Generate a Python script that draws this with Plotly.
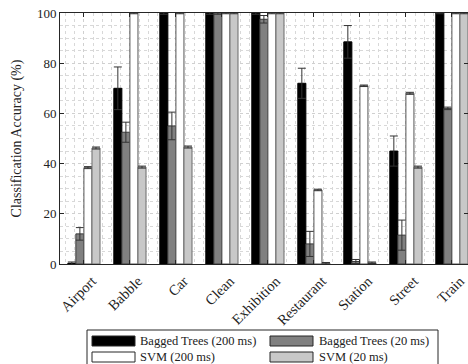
import plotly.graph_objects as go

categories = ["Airport", "Babble", "Car", "Clean", "Exhibition", "Restaurant", "Station", "Street", "Train"]

bt200 = [0.3, 70, 100, 100, 100, 72, 88.5, 45, 100]
bt200_err = [0.5, 8.5, 0.5, 0.5, 0.5, 6, 6.5, 6, 0.3]
bt20 = [12, 52.5, 55, 100, 97.5, 8, 1, 11.5, 62]
bt20_err = [2.5, 4, 5.5, 0.5, 1.5, 5, 0.8, 6, 0.5]
svm200 = [38.4, 100, 100, 100, 100, 29.5, 71, 68, 100]
svm200_err = [0.4, 0.3, 0.3, 0.3, 0.3, 0.3, 0.3, 0.4, 0.3]
svm20 = [46.2, 38.6, 46.6, 100, 100, 0.3, 0.5, 38.6, 100]
svm20_err = [0.4, 0.4, 0.4, 0.3, 0.3, 0.3, 0.3, 0.4, 0.3]

series = [
    ("Bagged Trees (200 ms)", bt200, bt200_err, "#000000", "#000000"),
    ("Bagged Trees (20 ms)", bt20, bt20_err, "#808080", "#3a3a3a"),
    ("SVM (200 ms)", svm200, svm200_err, "#ffffff", "#555555"),
    ("SVM (20 ms)", svm20, svm20_err, "#c8c8c8", "#6a6a6a"),
]

FONT = "Liberation Serif"
W, H = 468, 364
ML, MR, MT, MB = 60, 0, 13, 100

x = list(range(len(categories)))
fig = go.Figure()
for name, vals, errs, fill, edge in series:
    fig.add_trace(go.Bar(
        x=x, y=vals, name=name,
        marker=dict(color=fill, line=dict(color=edge, width=1)),
        error_y=dict(type="data", array=errs, visible=True, color="#333333", thickness=1, width=4),
        showlegend=False,
    ))

fig.update_layout(
    width=W, height=H,
    margin=dict(l=ML, r=MR, t=MT, b=MB, pad=0, autoexpand=False),
    paper_bgcolor="white", plot_bgcolor="white",
    barmode="group", bargap=0.3, bargroupgap=0,
    font=dict(family=FONT, size=12, color="#222222"),
)

fig.update_xaxes(
    automargin=False,
    range=[-0.52, 8.35], tickvals=x, ticktext=categories, tickangle=-45,
    ticks="inside", ticklen=4, tickcolor="#262626",
    ticklabelshift=8, ticklabelstandoff=2,
    showline=True, linecolor="#262626", linewidth=1, mirror="ticks",
    showgrid=True, gridcolor="#d0d0d0", griddash="dot", gridwidth=1,
    minor=dict(dtick=0.2, tick0=0, showgrid=True, gridcolor="#d8d8d8", griddash="dot", gridwidth=1),
    tickfont=dict(family=FONT, size=14.5, color="#222222"),
    zeroline=False,
)
fig.update_yaxes(
    automargin=False,
    range=[0, 100], tickvals=[0, 20, 40, 60, 80, 100],
    ticks="inside", ticklen=4, tickcolor="#262626",
    showline=True, linecolor="#262626", linewidth=1, mirror="ticks",
    showgrid=True, gridcolor="#d0d0d0", griddash="dot", gridwidth=1,
    minor=dict(dtick=5, showgrid=True, gridcolor="#d8d8d8", griddash="dot", gridwidth=1),
    tickfont=dict(family=FONT, size=13, color="#222222"),
    title=dict(text="Classification Accuracy (%)", font=dict(family=FONT, size=14, color="#222222"), standoff=12),
    zeroline=False,
)

# Manual legend (pixel positions converted to paper coordinates)
PW = W - ML - MR
PH = H - MT - MB
def px(xp):
    return (xp - ML) / PW
def py(yp):
    return (H - MB - yp) / PH

fig.add_shape(type="rect", xref="paper", yref="paper",
              x0=px(87), x1=px(438), y0=py(372), y1=py(330),
              line=dict(color="#262626", width=1), fillcolor="white", layer="above")
cols = [(92, 135, 138), (270, 313, 317)]
rows = [(336, 346, 341), (352, 362, 357)]
for i, (name, vals, errs, fill, edge) in enumerate(series):
    cx0, cx1, tx = cols[i % 2]
    ry0, ry1, ty = rows[i // 2]
    fig.add_shape(type="rect", xref="paper", yref="paper",
                  x0=px(cx0), x1=px(cx1), y0=py(ry1), y1=py(ry0),
                  line=dict(color="#262626", width=1), fillcolor=fill, layer="above")
    fig.add_annotation(xref="paper", yref="paper", x=px(tx), y=py(ty),
                       text=name, showarrow=False, xanchor="left", yanchor="middle",
                       font=dict(family=FONT, size=12.5, color="#222222"))

fig.write_html("out.html", config={"displayModeBar": False},
               post_script="document.body.style.margin='0';document.body.style.overflow='hidden';")
